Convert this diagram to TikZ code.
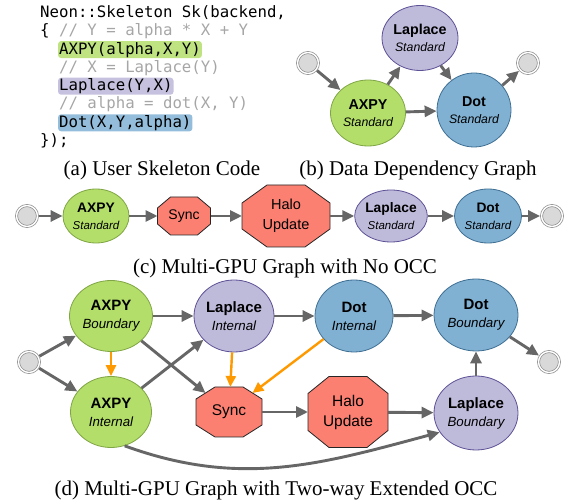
\documentclass[tikz,border=0pt]{standalone}
\usepackage{fontspec}
\setmainfont{Liberation Serif}
\setsansfont{Liberation Sans}
\newfontfamily\codefont{DejaVu Sans Mono}
\usetikzlibrary{arrows.meta,shapes.geometric,calc,backgrounds}

\definecolor{axpygreen}{HTML}{B3DE69}
\definecolor{axpyline}{HTML}{7FA544}
\definecolor{lapviolet}{HTML}{BEBADA}
\definecolor{lapline}{HTML}{5E5196}
\definecolor{dotblue}{HTML}{80B1D3}
\definecolor{dotline}{HTML}{3F6F93}
\definecolor{syncred}{HTML}{FB8072}
\definecolor{edgegray}{HTML}{666666}
\definecolor{occorange}{HTML}{FF9900}
\definecolor{commentgray}{HTML}{A6A6A6}

\newcommand\kind[2][13.3]{{\fontsize{#1}{18}\selectfont\itshape #2}}
% octagon outline behind a comm node: node, x cut, y cut
\newcommand\octo[3]{%
  \begin{pgfonlayer}{background}
    \draw[octline] ($(#1.north west)+(#2,0)$) -- ($(#1.north east)+(-#2,0)$)
      -- ($(#1.north east)+(0,#3)$) -- ($(#1.south east)+(0,-#3)$)
      -- ($(#1.south east)+(-#2,0)$) -- ($(#1.south west)+(#2,0)$)
      -- ($(#1.south west)+(0,-#3)$) -- ($(#1.north west)+(0,#3)$) -- cycle;
  \end{pgfonlayer}}

\tikzset{
  kernel/.style={ellipse, draw, line width=0.8pt, inner sep=0pt, align=center,
    font=\sffamily\fontsize{15}{18}\selectfont},
  axpy/.style={kernel, fill=axpygreen, draw=axpyline},
  lap/.style={kernel, fill=lapviolet, draw=lapline},
  dotk/.style={kernel, fill=dotblue, draw=dotline},
  comm/.style={rectangle, inner sep=0pt, outer sep=0pt, align=center,
    font=\sffamily\fontsize{15.5}{18}\selectfont},
  octline/.style={draw=black!85, fill=syncred, line width=0.8pt},
  term/.style={circle, draw=black!45, fill=black!15, line width=0.7pt, double=white,
    double distance=1.4pt, minimum size=21pt, inner sep=0pt, outer sep=1.4pt},
  flow/.style={-{Triangle[length=12pt,width=11pt]}, line width=2.9pt, draw=edgegray},
  occ/.style={-{Triangle[length=11pt,width=10pt]}, line width=2.4pt, draw=occorange},
  caption/.style={anchor=base, inner sep=0pt, font=\fontsize{21}{24}\selectfont},
  codeline/.style={anchor=base west, inner sep=0pt, font=\codefont\fontsize{15.7}{18}\selectfont},
  hl/.style={codeline, fill=#1, rounded corners=3pt, inner xsep=1pt, inner ysep=1pt,
    text height=12pt, text depth=3pt}
}

\begin{document}
\begin{tikzpicture}[x=1pt, y=-1pt]
  \useasboundingbox (0,0) rectangle (565,502);

  % (a) skeleton code
  \node[codeline] (code1) at (40,17.5) {Neon::Skeleton Sk(backend,};
  \node[codeline] (code2) at (40,35.8) {\{ \textcolor{commentgray}{// Y = alpha * X + Y}};
  \node[hl=axpygreen!85] (code3) at (57.9,54.1) {AXPY(alpha,X,Y)};
  \node[codeline, text=commentgray] (code4) at (58.9,72.4) {// X = Laplace(Y)};
  \node[hl=lapviolet!90] (code5) at (57.9,90.7) {Laplace(Y,X)};
  \node[codeline, text=commentgray] (code6) at (58.9,109) {// alpha = dot(X, Y)};
  \node[hl=dotblue!85] (code7) at (57.9,127.3) {Dot(X,Y,alpha)};
  \node[codeline] (code8) at (40,145.6) {\});};
  \node[caption] (capa) at (162,176) {(a) User Skeleton Code};

  % (b) data dependency graph
  \node[term] (inb) at (308,63) {};
  \node[term] (outb) at (528,63) {};
  \node[lap, minimum width=76pt, minimum height=65pt, font=\sffamily\fontsize{14.3}{17}\selectfont]
    (lapb) at (420,38) {\textbf{Laplace}\\\kind[12.3]{Standard}};
  \node[axpy, minimum width=75pt, minimum height=66pt, font=\sffamily\fontsize{14.3}{17}\selectfont]
    (axpyb) at (368,113) {\textbf{AXPY}\\\kind[12.3]{Standard}};
  \node[dotk, minimum width=74pt, minimum height=74pt, font=\sffamily\fontsize{14.3}{17}\selectfont]
    (dotb) at (474,110) {\textbf{Dot}\\\kind[12.3]{Standard}};
  \draw[flow] (inb) -- (axpyb);
  \draw[flow] (axpyb) -- (lapb);
  \draw[flow] (lapb) -- (dotb);
  \draw[flow] (axpyb) -- (dotb);
  \draw[flow] (dotb) -- (outb);
  \node[caption] (capb) at (418,176) {(b) Data Dependency Graph};

  % (c) multi-GPU, no OCC
  \node[term] (inc) at (27,216) {};
  \node[axpy, minimum width=66pt, minimum height=54pt, font=\sffamily\fontsize{13.8}{17}\selectfont]
    (axpyc) at (96,216) {\textbf{AXPY}\\\kind[11.5]{Standard}};
  \node[comm, minimum width=53pt, minimum height=38pt, font=\sffamily\fontsize{14}{17}\selectfont]
    (syncc) at (184,216) {Sync};
  \node[comm, minimum width=88pt, minimum height=62pt, font=\sffamily\fontsize{14.5}{20}\selectfont]
    (haloc) at (286,216) {Halo\\Update};
  \node[lap, minimum width=67pt, minimum height=52pt, font=\sffamily\fontsize{13.8}{17}\selectfont]
    (lapc) at (391,216) {\textbf{Laplace}\\\kind[11.5]{Standard}};
  \node[dotk, minimum width=67pt, minimum height=54pt, font=\sffamily\fontsize{13.8}{17}\selectfont]
    (dotc) at (488,216) {\textbf{Dot}\\\kind[11.5]{Standard}};
  \node[term] (outc) at (552,216) {};
  \octo{syncc}{13}{11}
  \octo{haloc}{25}{18}
  \draw[flow] (inc) -- (axpyc);
  \draw[flow] (axpyc) -- (syncc);
  \draw[flow] (syncc) -- (haloc);
  \draw[flow] (haloc) -- (lapc);
  \draw[flow] (lapc) -- (dotc);
  \draw[flow] (dotc) -- (outc);
  \node[caption] (capc) at (285,274) {(c) Multi-GPU Graph with No OCC};

  % (d) multi-GPU, two-way extended OCC
  \node[term] (ind) at (29,362) {};
  \node[axpy, minimum width=83pt, minimum height=71pt] (axpyB) at (111,316)
    {\textbf{AXPY}\\\kind{Boundary}};
  \node[axpy, minimum width=81pt, minimum height=71pt] (axpyI) at (111,412)
    {\textbf{AXPY}\\\kind{Internal}};
  \node[lap, minimum width=80pt, minimum height=72pt] (lapI) at (234,316)
    {\textbf{Laplace}\\\kind{Internal}};
  \node[dotk, minimum width=78pt, minimum height=72pt] (dotI) at (354,316)
    {\textbf{Dot}\\\kind{Internal}};
  \node[dotk, minimum width=84pt, minimum height=72pt] (dotBd) at (476,315)
    {\textbf{Dot}\\\kind{Boundary}};
  \node[comm, minimum width=66pt, minimum height=50pt] (syncd) at (229,412) {Sync};
  \node[comm, minimum width=80pt, minimum height=71pt, font=\sffamily\fontsize{15.5}{20}\selectfont]
    (halod) at (348,412) {Halo\\Update};
  \node[lap, minimum width=84pt, minimum height=74pt] (lapBd) at (476,413)
    {\textbf{Laplace}\\\kind{Boundary}};
  \node[term] (outd) at (549,362) {};
  \octo{syncd}{19}{12}
  \octo{halod}{21}{17}

  \draw[flow] (ind) -- (axpyB);
  \draw[flow] (ind) -- (axpyI);
  \draw[flow] (axpyB) -- (lapI);
  \draw[flow] (lapI) -- (dotI);
  \draw[flow] (dotI) -- (dotBd);
  \draw[flow] (axpyB) -- ($(syncd.north west)+(9.5,6)$);
  \draw[flow] (axpyI) -- (lapI);
  \draw[flow] (syncd) -- (halod);
  \draw[flow] (halod) -- (lapBd);
  \draw[flow] (lapBd) -- (dotBd);
  \draw[flow] (dotBd) -- (outd);
  \draw[flow] (axpyI.-68) to[out=-20, in=195] (lapBd.208);
  \draw[occ] (axpyB) -- (axpyI);
  \draw[occ] (lapI) -- (syncd);
  \draw[occ] (dotI) -- ($(syncd.north east)+(-9.5,6)$);
  \node[caption] (capd) at (276,495) {(d) Multi-GPU Graph with Two-way Extended OCC};
\end{tikzpicture}
\end{document}
